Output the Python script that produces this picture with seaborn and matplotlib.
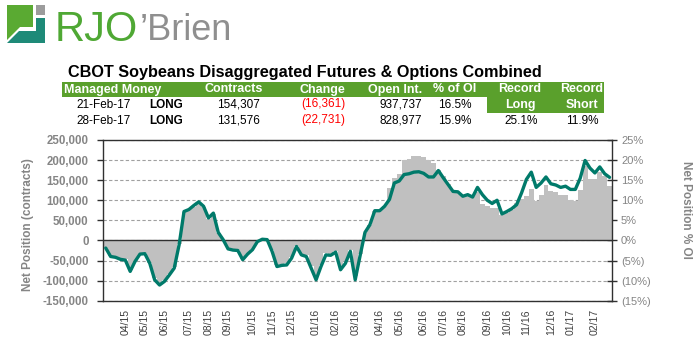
import numpy as np
import pandas as pd
import matplotlib
matplotlib.use("Agg")
import matplotlib.pyplot as plt
import seaborn as sns
from matplotlib.patches import Polygon, Rectangle
from matplotlib.ticker import FuncFormatter

# ---------------- data ----------------
first_week = "2015-03-10"

net_position = [
    -19000, -40000, -42000, -47000, -49000, -77000, -52000, -34000, -33000, -57000,
    -98000, -111000, -102000, -86000, -69000, -11000, 72000, 77000, 87000, 96000,
    85000, 56000, 68000, 20000, 2000, -21000, -24000, -25000, -48000, -34000,
    -23000, -3000, 3000, 2000, -27000, -65000, -62000, -61000, -44000, -15000,
    -36000, -40000, -69000, -98000, -65000, -36000, -37000, -29000, -73000, -57000,
    -27000, -98000, -38000, 20000, 39000, 74000, 74000, 85000, 102000, 143000,
    148000, 164000, 166000, 170000, 171000, 167000, 158000, 158000, 174000, 156000,
    139000, 122000, 121000, 110000, 114000, 108000, 132000, 114000, 100000, 92000,
    100000, 66000, 72000, 79000, 89000, 118000, 152000, 170000, 132000, 143000,
    158000, 141000, 138000, 132000, 135000, 127000, 127000, 155000, 199000, 180000,
    168000, 183000, 166000, 157000,
]

pct_oi = [
    -1.8, -3.8, -4.0, -4.5, -4.7, -7.3, -5.0, -3.3, -3.2, -5.5,
    -9.4, -10.7, -9.8, -8.3, -6.6, -1.0, 7.0, 7.5, 8.4, 9.3,
    8.2, 5.4, 6.6, 1.9, 0.2, -2.0, -2.3, -2.4, -4.6, -3.3,
    -2.2, -0.3, 0.3, 0.2, -2.5, -6.0, -5.8, -5.7, -4.1, -1.4,
    -3.3, -3.6, -6.3, -8.8, -6.0, -3.2, -3.4, -2.6, -6.6, -5.2,
    -2.4, -8.9, -3.4, 1.8, 3.9, 7.4, 7.4, 8.5, 13.0, 15.5,
    16.5, 20.0, 20.3, 21.0, 21.0, 20.8, 20.0, 19.3, 17.5, 16.0,
    14.0, 12.5, 12.0, 11.0, 11.0, 11.0, 12.0, 9.0, 8.5, 8.1,
    8.1, 6.4, 6.8, 7.7, 9.3, 10.2, 11.0, 12.7, 9.9, 11.2,
    13.7, 12.2, 12.1, 11.4, 11.2, 10.0, 9.9, 12.5, 18.5, 15.3,
    15.3, 17.0, 16.0, 13.5,
]

left_ticks = [-150000, -100000, -50000, 0, 50000, 100000, 150000, 200000, 250000]
right_ticks = [-15, -10, -5, 0, 5, 10, 15, 20, 25]

title = "CBOT Soybeans Disaggregated Futures & Options Combined"
header_cols = ["Contracts", "Change", "Open Int.", "% of OI"]
row_dates = ["21-Feb-17", "28-Feb-17"]
row_side = ["LONG", "LONG"]
row_contracts = ["154,307", "131,576"]
row_change = ["(16,361)", "(22,731)"]
row_open_int = ["937,737", "828,977"]
row_pct = ["16.5%", "15.9%"]
record_long = "25.1%"
record_short = "11.9%"

# ---------------- style ----------------
W, H = 696, 342
sns.set_theme(style="white")
plt.rcParams["font.family"] = ["Liberation Sans", "DejaVu Sans"]

GREEN = "#5aa02c"
TEAL = "#007a6a"
GRAY_FILL = "#c0c0c0"
LABEL_GRAY = "#858585"
DARK = "#303030"

fig = plt.figure(figsize=(W / 100, H / 100), dpi=100)
fig.patch.set_facecolor("white")


def fx(x):
    return x / W


def fy(y):
    return 1 - y / H


def T(x, y, s, ha="center", va="center", **kw):
    fig.text(fx(x), fy(y), s, ha=ha, va=va, **kw)


# ---------------- logo ----------------
def poly(pts, color):
    fig.add_artist(Polygon([(fx(a), fy(b)) for a, b in pts], closed=True,
                           facecolor=color, edgecolor="none", transform=fig.transFigure))


poly([(7, 5), (33, 5), (33, 27), (20, 27), (7, 40)], "#5aaa32")
poly([(36, 5), (45, 5), (45, 15), (36, 15)], "#9c9c9c")
poly([(36, 18), (45, 18), (45, 43), (7, 43), (19, 31), (36, 31)], "#1e8a78")
T(55, 30, "RJO", ha="left", fontsize=30, color="#4fa834")
T(140, 30, "\u2019Brien", ha="left", fontsize=26, color="#8f8f8f")

# ---------------- title + table ----------------
T(68, 72, title, ha="left", fontsize=11.7, fontweight="bold", color="black")
fig.add_artist(Rectangle((fx(62), fy(97)), fx(604) - fx(62), fy(82) - fy(97),
                         facecolor=GREEN, edgecolor="none", transform=fig.transFigure))
fig.add_artist(Rectangle((fx(487), fy(113)), fx(604) - fx(487), fy(82) - fy(113),
                         facecolor=GREEN, edgecolor="none", transform=fig.transFigure))
hdr = dict(fontsize=9, fontweight="bold", color="white")
T(64, 89.5, "Managed Money", ha="left", **hdr)
for x, s in zip([234, 322, 395, 455], header_cols):
    T(x, 89.5, s, **hdr)
T(520, 89.5, "Record", **hdr)
T(520, 105, "Long", **hdr)
T(582, 89.5, "Record", **hdr)
T(582, 105, "Short", **hdr)

for k, y in enumerate([104.5, 120.5]):
    T(104, y, row_dates[k], fontsize=8.5, color="black")
    T(166, y, row_side[k], fontsize=8.5, fontweight="bold", color="black")
    T(238, y, row_contracts[k], fontsize=8.5, color="black")
    T(323, y, row_change[k], fontsize=8.5, color="#ff0000")
    T(422, y, row_open_int[k], ha="right", fontsize=8.5, color="black")
    T(455, y, row_pct[k], fontsize=8.5, color="black")
T(521, 120.5, record_long, fontsize=8.5, color="black")
T(582, 120.5, record_short, fontsize=8.5, color="black")

# ---------------- chart ----------------
n = len(net_position)
dates = pd.date_range(first_week, periods=n, freq="7D")
idx = np.arange(n)
df = pd.DataFrame({"week": idx, "net": net_position, "pct": pct_oi})

left, right, top, bottom = 103.3, 612, 140, 300.7
ax = fig.add_axes([fx(left), fy(bottom), fx(right) - fx(left), fy(top) - fy(bottom)])
sns.barplot(data=df, x="week", y="pct", color=GRAY_FILL, width=1.0, saturation=1,
            linewidth=0, errorbar=None, ax=ax)
ax.set_ylim(-15, 25)
ax.set_xlim(-0.5, n - 0.5)
ax.set_axisbelow(True)
ax.yaxis.grid(True, linestyle=(0, (3, 2)), color="#a0a0a0", linewidth=0.8)
ax.xaxis.grid(False)

ax2 = ax.twinx()
sns.lineplot(data=df, x="week", y="net", color=TEAL, linewidth=2.4, ax=ax2, zorder=3)
ax2.axhline(0, color=DARK, linewidth=1.0, zorder=2)
ax2.set_ylim(-150000, 250000)
ax2.set_xlim(-0.5, n - 0.5)

# axes sides: contracts on left (ax2), % on right (ax)
ax2.yaxis.tick_left()
ax2.yaxis.set_label_position("left")
ax.yaxis.tick_right()
ax.yaxis.set_label_position("right")

ax2.set_yticks(left_ticks)
ax2.yaxis.set_major_formatter(FuncFormatter(lambda v, p: f"{v:,.0f}"))
ax2.tick_params(axis="y", direction="out", length=4, width=1, color=DARK,
                labelsize=8.3, labelcolor=LABEL_GRAY, pad=6.5, left=True, right=False)
for lab in ax2.get_yticklabels():
    lab.set_fontweight("bold")

ax.set_yticks(right_ticks)
ax.yaxis.set_major_formatter(FuncFormatter(
    lambda v, p: f"{v:.0f}%" if v >= 0 else f"({-v:.0f}%)"))
ax.tick_params(axis="y", direction="inout", length=7, width=1, color=DARK,
               labelsize=8, labelcolor=LABEL_GRAY, pad=3, right=True, left=False)

tick_pos = [i for i, d in enumerate(dates) if d.day <= 7]
tick_lab = [dates[i].strftime("%m/%y") for i in tick_pos]
ax.set_xticks(tick_pos)
ax.set_xticklabels(tick_lab, rotation=90, fontsize=7.5, color="#404040")
ax.tick_params(axis="x", length=0, pad=6)

ax.set_xlabel("")
ax.set_ylabel("")
ax2.set_xlabel("")
ax2.set_ylabel("")
for sp in ax.spines.values():
    sp.set_visible(True)
    sp.set_color(DARK)
    sp.set_linewidth(1)
for sp in ax2.spines.values():
    sp.set_visible(False)

T(28, 225, "Net Position (contracts)", rotation=90, fontsize=8.5,
  fontweight="bold", color=LABEL_GRAY)
T(686, 210, "Net Position % OI", rotation=-90, fontsize=8.5,
  fontweight="bold", color=LABEL_GRAY)

fig.savefig("out.png", dpi=100, facecolor="white")
